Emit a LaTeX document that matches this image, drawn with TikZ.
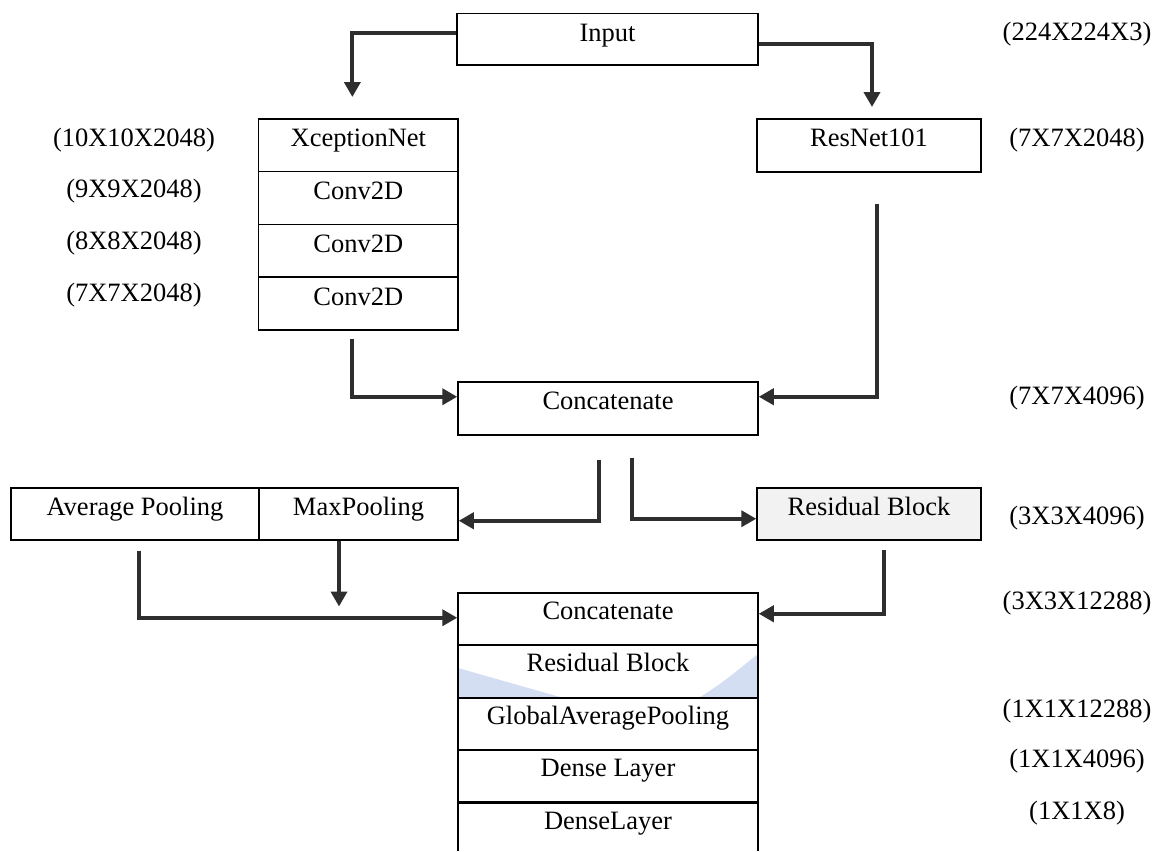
\documentclass[tikz,border=0pt]{standalone}
\usepackage{fontspec}
\setmainfont{Liberation Serif}
\usetikzlibrary{arrows.meta}
\definecolor{wmblue}{RGB}{212,222,242}
\newcommand\dgfont{\fontsize{26.5pt}{30pt}\selectfont}
\tikzset{
  blk/.style={draw=black, line width=1.5pt, inner sep=0pt, minimum width=#1,
              anchor=north, font=\dgfont, align=center, text height=28pt, text depth=24.5pt},
  blkb/.style={blk=#1, text height=27pt, text depth=25.5pt},
  dimlabel/.style={font=\dgfont, anchor=base, inner sep=0pt},
  arr/.style={line width=4pt, draw=black!82, -{Triangle[length=15pt,width=16pt]}},
  edge/.style={draw=black, line width=1.5pt}
}
\begin{document}
\begin{tikzpicture}[x=1pt,y=-1pt]
\useasboundingbox (0,0) rectangle (1155,851);
\fill[white] (0,0) rectangle (1155,851);
% watermark traces inside the lower Residual Block row
\fill[wmblue] (458,668) -- (560,697) -- (458,697) -- cycle;
\fill[wmblue] (700,697) .. controls (725,682) and (745,664) .. (758,654) -- (758,697) -- cycle;

% boxes
\node[blk=301, text depth=23pt] (input) at (607.5,13) {Input};
\node[blk=199.3, text depth=24.75pt] (xcep) at (358.35,118) {XceptionNet};
\node[blk=199.3, text depth=24.75pt] (c1) at (358.35,170.75) {Conv2D};
\node[blk=199.3, text depth=24.75pt] (c2) at (358.35,223.5) {Conv2D};
\node[blk=199.3, text depth=24.75pt] (c3) at (358.35,276.25) {Conv2D};
\node[blk=224, text depth=25pt] (resnet) at (869,118) {ResNet101};
\node[blk=300, text depth=25pt] (concat1) at (608,381) {Concatenate};
\node[blk=248, text depth=24pt] (avgp) at (135,487) {Average Pooling};
\node[blk=199, text depth=24pt] (maxp) at (358.5,487) {MaxPooling};
\node[blk=224, text depth=24pt, fill=gray!10] (res1) at (869,487) {Residual Block};
\node[blkb=300, text depth=25pt] (concat2) at (608,592) {Concatenate};
\node[blkb=300, text depth=26pt] (res2) at (608,644) {Residual Block};
\node[blkb=300, text depth=25pt] (gap) at (608,697) {GlobalAveragePooling};
\node[blkb=300, text depth=26pt] (dense1) at (608,749) {Dense Layer};
\node[blkb=300, draw=none, outer sep=0pt, text depth=22pt] (dense2) at (608,802) {DenseLayer};
\draw[edge] (dense2.south west) -- (dense2.north west) -- (dense2.north east) -- (dense2.south east);

% dimension labels
\node[dimlabel] (l0) at (1077,41) {(224X224X3)};
\node[dimlabel] (l1) at (134,146) {(10X10X2048)};
\node[dimlabel] (l2) at (134,197) {(9X9X2048)};
\node[dimlabel] (l3) at (134,249) {(8X8X2048)};
\node[dimlabel] (l4) at (134,301) {(7X7X2048)};
\node[dimlabel] (r1) at (1077,146) {(7X7X2048)};
\node[dimlabel] (r2) at (1077,404) {(7X7X4096)};
\node[dimlabel] (r3) at (1077,524) {(3X3X4096)};
\node[dimlabel] (r4) at (1077,609) {(3X3X12288)};
\node[dimlabel] (r5) at (1077,717) {(1X1X12288)};
\node[dimlabel] (r6) at (1077,767) {(1X1X4096)};
\node[dimlabel] (r7) at (1077,819) {(1X1X8)};

% connectors
\draw[arr] ([yshift=6.5pt]input.west) -| ([xshift=-6pt,yshift=21pt]xcep.north);
\draw[arr] ([yshift=-4.5pt]input.east) -| ([xshift=3pt,yshift=11pt]resnet.north);
\draw[arr] ([xshift=-6pt,yshift=-8pt]c3.south) |- ([yshift=11.5pt]concat1.west);
\draw[arr] ([xshift=8pt,yshift=-31pt]resnet.south) |- ([yshift=11.5pt]concat1.east);
\draw[arr] ([xshift=-9pt,yshift=-24pt]concat1.south) |- ([yshift=-7pt]maxp.east);
\draw[arr] ([xshift=24pt,yshift=-22pt]concat1.south) |- ([yshift=-5pt]res1.west);
\draw[arr] ([xshift=4pt,yshift=-10pt]avgp.south) |- ([yshift=1pt]concat2.west);
\coordinate (mpend) at ([xshift=-19.5pt,yshift=-66pt]maxp.south);
\draw[arr] ([xshift=-19.5pt]maxp.south) -- (mpend);
\draw[arr] ([xshift=15pt,yshift=-9pt]res1.south) |- ([yshift=5pt]concat2.east);
\end{tikzpicture}
\end{document}
